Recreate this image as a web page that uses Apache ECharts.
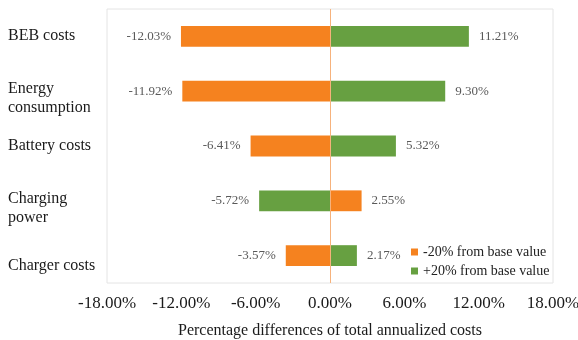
<!DOCTYPE html>
<html>
<head>
<meta charset="utf-8">
<script src="https://cdn.jsdelivr.net/npm/echarts@6/dist/echarts.min.js"></script>
<style>
  html, body { margin: 0; padding: 0; background: #fff; }
  #chart { width: 578px; height: 340px; }
</style>
</head>
<body>
<div id="chart"></div>
<script>
// Sensitivity of total annualized costs to ±20% changes in each parameter
const categories = ['BEB costs', 'Energy\nconsumption', 'Battery costs', 'Charging\npower', 'Charger costs'];
const minus20 = [-12.03, -11.92, -6.41, 2.55, -3.57];
const plus20 = [11.21, 9.30, 5.32, -5.72, 2.17];
const seriesNames = ['-20% from base value', '+20% from base value'];
const axisTicks = { min: -18, max: 18, step: 6 };

const FONT = '"Liberation Serif", "Times New Roman", serif';
const ORANGE = '#f5821f';
const GREEN = '#67a041';

// Vertical nudge (px, positive = down) for each category label
const labelNudge = [-1, 7, 0, 7, 10];

const baseText = { fontFamily: FONT, fontSize: 16, lineHeight: 19, color: '#1a1a1a' };

// Rich style "t<i>" shifts every line of label i inside its fixed line box
const richStyles = {};
labelNudge.forEach((d, i) => {
  richStyles['t' + i] = Object.assign({}, baseText, {
    padding: d >= 0 ? [2 * d, 0, 0, 0] : [0, 0, -2 * d, 0]
  });
});

function categoryFormatter(value, index) {
  return value.split('\n')
    .map(line => '{t' + index + '|' + line + '}')
    .join('\n');
}

// Each bar label sits on the outer end of its bar
function withLabels(values) {
  return values.map(v => ({
    value: v,
    label: { position: v < 0 ? 'left' : 'right' }
  }));
}

const labelStyle = {
  show: true,
  distance: 10,
  fontFamily: FONT,
  fontSize: 13,
  color: '#595959',
  formatter: p => p.value.toFixed(2) + '%'
};

const chart = echarts.init(document.getElementById('chart'), null, { renderer: 'canvas' });
chart.setOption({
  animation: false,
  textStyle: { fontFamily: FONT },
  grid: {
    left: 107, right: 25, top: 9, bottom: 57,
    outerBoundsMode: 'none',
    containLabel: false,
    show: true, borderColor: '#e4e4e4', borderWidth: 1, backgroundColor: 'transparent'
  },
  legend: {
    orient: 'vertical',
    left: 411, top: 245,
    padding: 0,
    itemWidth: 7, itemHeight: 7, itemGap: 5,
    icon: 'rect',
    textStyle: { fontFamily: FONT, fontSize: 14, color: '#222' },
    data: seriesNames
  },
  xAxis: {
    type: 'value',
    min: axisTicks.min, max: axisTicks.max, interval: axisTicks.step,
    axisLine: { show: false },
    axisTick: { show: false },
    splitLine: { show: false },
    axisLabel: {
      margin: 12,
      fontFamily: FONT, fontSize: 17, color: '#1a1a1a',
      formatter: v => v.toFixed(2) + '%'
    },
    name: 'Percentage differences of total annualized costs',
    nameLocation: 'middle',
    nameGap: 40,
    nameTextStyle: { fontFamily: FONT, fontSize: 16, color: '#1a1a1a' }
  },
  yAxis: {
    type: 'category',
    inverse: true,
    data: categories,
    axisLine: { show: false },
    axisTick: { show: false },
    splitLine: { show: false },
    axisLabel: Object.assign({
      margin: 99,
      align: 'left',
      formatter: categoryFormatter,
      rich: richStyles
    }, baseText)
  },
  series: [
    {
      name: seriesNames[0],
      type: 'bar',
      barWidth: '38%',
      barGap: '-100%',
      itemStyle: { color: ORANGE },
      label: labelStyle,
      data: withLabels(minus20),
      markLine: {
        silent: true,
        symbol: 'none',
        label: { show: false },
        lineStyle: { color: '#f6b27c', width: 1, type: 'solid' },
        data: [{ xAxis: 0 }]
      },
      z: 2
    },
    {
      name: seriesNames[1],
      type: 'bar',
      barWidth: '38%',
      itemStyle: { color: GREEN },
      label: labelStyle,
      data: withLabels(plus20),
      z: 2
    }
  ]
});
</script>
</body>
</html>
